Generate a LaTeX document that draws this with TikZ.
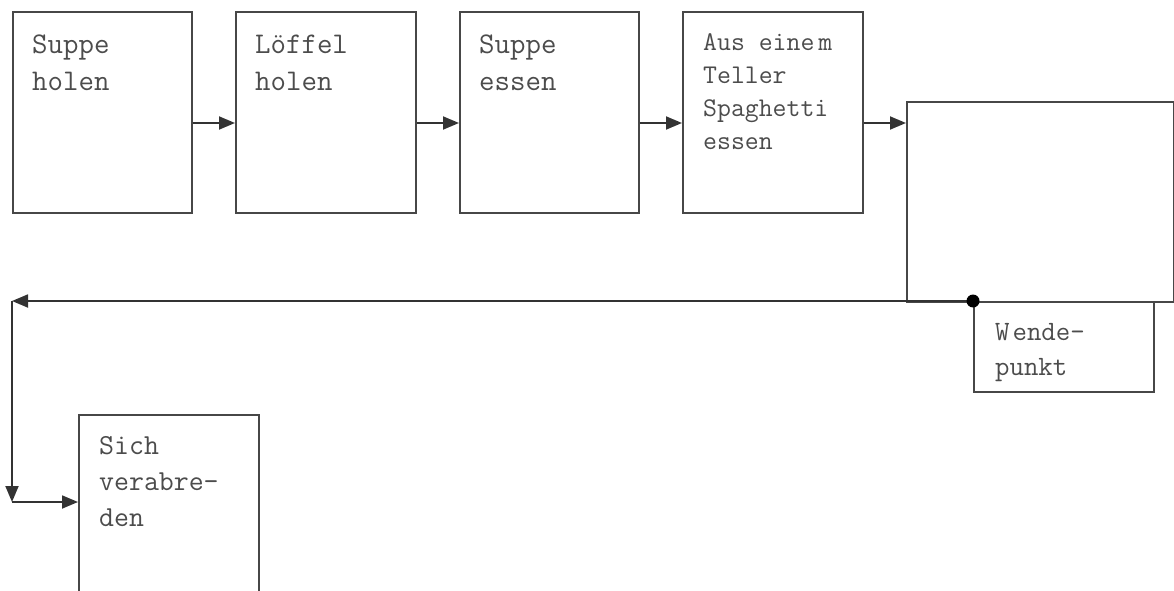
\documentclass[tikz,border=0pt]{standalone}
\usepackage{fontspec}
\usetikzlibrary{arrows.meta}
\newcommand{\fstrut}{\rule{0pt}{24pt}}
\begin{document}
\begin{tikzpicture}[x=1pt,y=-1pt,
  box/.style={draw=black!72, line width=1.8pt, inner sep=0pt, anchor=north west},
  lbl/.style={anchor=north west, inner sep=0pt, align=left, text=black!70},
  conn/.style={draw=black!80, line width=1.8pt, -{Triangle[length=16pt,width=13pt]}}]
\clip (0,0) rectangle (1174,591);
\fill[white] (0,0) rectangle (1174,591);
% boxes
\node[box, minimum width=179pt, minimum height=201pt] (b1) at (12,11) {};
\node[box, minimum width=180pt, minimum height=201pt] (b2) at (235,11) {};
\node[box, minimum width=179pt, minimum height=201pt] (b3) at (459,11) {};
\node[box, minimum width=180pt, minimum height=201pt] (b4) at (682,11) {};
\node[box, minimum width=267pt, minimum height=200pt] (b5) at (906,101) {};
\node[box, minimum width=180pt, minimum height=90pt] (bw) at (973,301) {};
\node[box, minimum width=180pt, minimum height=190pt] (b6) at (78,414) {};
% labels
\node[lbl, font=\ttfamily\fontsize{30}{37}\selectfont\addfontfeature{LetterSpace=7}] (t1) at (32,29) {\fstrut Suppe\\holen};
\node[lbl, font=\ttfamily\fontsize{30}{37}\selectfont] (t2) at (255,29) {\fstrut Löffel\\holen};
\node[lbl, font=\ttfamily\fontsize{30}{37}\selectfont\addfontfeature{LetterSpace=5}] (t3) at (479,29) {\fstrut Suppe\\essen};
\node[lbl, font=\ttfamily\fontsize{27}{33}\selectfont] (t4) at (703,26) {\fstrut Aus eine\hspace{4pt}m\\Teller\\Spaghetti\\essen};
\node[lbl, font=\ttfamily\fontsize{28}{35}\selectfont] (tw) at (995,316) {\fstrut W\hspace{3pt}ende-\\punkt};
\node[lbl, font=\ttfamily\fontsize{29}{36}\selectfont] (t6) at (99,430) {\fstrut Sich\\verabre-\\den};
% connectors
\coordinate (ay) at (0,123);
\draw[conn] (b1.east |- ay) -- (b2.west |- ay);
\draw[conn] (b2.east |- ay) -- (b3.west |- ay);
\draw[conn] (b3.east |- ay) -- (b4.west |- ay);
\draw[conn] (b4.east |- ay) -- (b5.west |- ay);
\coordinate (c1) at (12,301);
\coordinate (c2) at (12,502);
\coordinate (dot) at (bw.north west);
\draw[conn] (dot) -- (c1);
\draw[conn] (c1) -- (c2);
\draw[conn] (c2) -- (b6.west |- c2);
\fill[black] (dot) circle (6.5pt);
\end{tikzpicture}
\end{document}
